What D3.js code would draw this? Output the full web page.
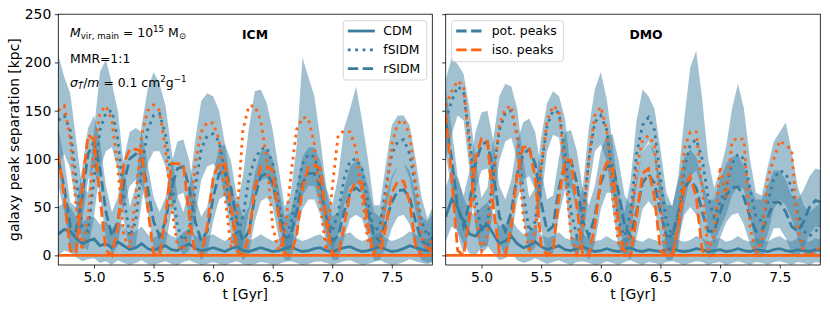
<!DOCTYPE html>
<html>
<head>
<meta charset="utf-8">
<script src="https://cdn.jsdelivr.net/npm/d3@7"></script>
<style>
  body { margin: 0; background: #fff; }
  svg { display: block; }
  text { font-family: "DejaVu Sans", sans-serif; fill: #000; }
</style>
</head>
<body>
<svg id="fig" width="830" height="311"></svg>
<script>
// sampling times [Gyr]
var times = [
  4.70,4.75,4.80,4.85,4.90,4.95,5.00,5.05,
  5.10,5.15,5.20,5.25,5.30,5.35,5.40,5.45,
  5.50,5.55,5.60,5.65,5.70,5.75,5.80,5.85,
  5.90,5.95,6.00,6.05,6.10,6.15,6.20,6.25,
  6.30,6.35,6.40,6.45,6.50,6.55,6.60,6.65,
  6.70,6.75,6.80,6.85,6.90,6.95,7.00,7.05,
  7.10,7.15,7.20,7.25,7.30,7.35,7.40,7.45,
  7.50,7.55,7.60,7.65,7.70,7.75,7.80,7.85];

var xTicks = [5.0, 5.5, 6.0, 6.5, 7.0, 7.5];
var yTicks = [0, 50, 100, 150, 200, 250];
var modelNames = ["CDM", "fSIDM", "rSIDM"];
var peakNames = ["pot. peaks", "iso. peaks"];

// ---------- ICM ----------
var icmCdmPot = [
  22,27,25,18,12,15,17,10,
  12,8,14,10,6,8,12,7,
  5,8,10,6,5,9,12,7,
  5,6,8,6,4,7,9,5,
  4,6,8,6,4,5,7,9,
  6,4,5,7,8,5,4,6,
  8,9,6,4,5,7,9,6,
  4,5,7,10,8,6,5,7];
var icmCdmIso = [
  0,0,0,0,0,0,0,0, 0,0,0,0,0,0,0,0,
  0,0,0,0,0,0,0,0, 0,0,0,0,0,0,0,0,
  0,0,0,0,0,0,0,0, 0,0,0,0,0,0,0,0,
  0,0,0,0,0,0,0,0, 0,0,0,0,0,0,0,0];
var icmFsidmPot = [
  140,145,130,80,30,25,80,130,
  148,150,120,60,20,35,90,130,
  145,147,125,80,30,15,25,70,
  110,124,126,118,85,40,20,40,
  80,100,110,112,95,55,25,30,
  65,95,105,102,80,40,25,45,
  80,98,100,90,55,25,30,70,
  105,118,120,105,70,35,20,30];
var icmFsidmIso = [
  150,155,120,50,5,40,110,148,
  155,140,90,20,8,60,125,150,
  156,150,110,50,10,5,30,95,
  128,138,137,120,60,8,40,130,
  155,155,140,100,30,5,20,80,
  130,143,142,115,50,5,70,125,
  129,128,110,60,15,3,10,60,
  115,137,140,125,75,20,5,20];
var icmRsidmPot = [
  100,70,30,25,60,105,118,90,
  45,20,35,75,100,105,100,70,
  35,20,35,70,90,92,70,35,
  15,25,60,85,88,70,35,15,
  25,60,82,85,75,45,18,20,
  45,75,85,85,70,40,15,20,
  45,65,70,65,45,20,15,35,
  55,67,68,60,35,15,10,20];
var icmRsidmIso = [
  105,60,5,2,70,125,120,60,
  5,0,30,95,110,110,108,50,
  2,0,40,95,95,94,40,0,
  0,30,80,95,95,50,5,0,
  20,70,92,93,88,40,2,0,
  20,70,92,93,90,35,2,0,
  30,65,77,75,30,0,0,30,
  65,77,77,55,10,0,0,10];
// scatter bands of the pot. peaks
var icmCdmLo = [
  0,5,3,-2,-6,-4,-3,-8,
  -6,-10,-5,-8,-10,-8,-5,-9,
  -10,-8,-6,-9,-10,-7,-5,-8,
  -10,-9,-7,-9,-10,-8,-6,-9,
  -10,-9,-7,-8,-10,-9,-7,-6,
  -8,-10,-9,-7,-6,-8,-10,-8,
  -6,-5,-8,-10,-9,-7,-5,-8,
  -10,-9,-7,-4,-6,-8,-9,-7];
var icmCdmHi = [
  50,55,50,40,35,38,40,32,
  35,28,35,30,22,25,30,22,
  18,22,25,20,18,24,28,20,
  18,20,22,18,15,20,24,18,
  15,18,22,18,15,17,20,24,
  18,15,17,20,22,17,15,18,
  22,24,18,15,17,20,24,18,
  15,17,20,25,22,18,17,20];
var icmFsidmLo = [
  95,105,90,50,10,5,40,90,
  108,112,88,35,5,10,55,95,
  108,108,92,55,10,0,5,40,
  78,92,95,88,60,20,0,10,
  45,68,78,80,68,35,5,5,
  35,62,72,72,52,20,5,20,
  52,72,75,68,35,5,10,45,
  78,92,95,80,45,15,5,10];
var icmFsidmHi = [
  208,185,168,120,70,65,130,190,
  203,178,150,92,50,72,135,172,
  190,178,155,110,62,45,70,120,
  160,168,165,150,115,70,52,82,
  132,170,172,158,130,90,50,62,
  112,205,185,165,120,70,52,82,
  132,152,175,140,100,52,52,95,
  135,145,145,135,100,60,38,52];
var icmRsidmLo = [
  72,45,8,2,35,78,92,62,
  18,0,10,50,72,78,72,45,
  10,0,10,45,62,65,42,8,
  -5,2,35,58,62,42,8,-5,
  2,35,56,60,50,18,-5,-5,
  18,48,58,58,42,12,-5,-5,
  18,38,42,38,18,-5,-5,8,
  28,40,42,32,8,-5,-8,-5];
var icmRsidmHi = [
  132,100,55,50,90,132,145,118,
  72,45,60,100,128,132,128,95,
  60,45,60,95,118,120,98,60,
  40,50,85,112,115,98,60,40,
  50,85,108,110,100,70,40,45,
  70,102,112,112,98,68,40,45,
  70,92,98,92,72,45,40,60,
  82,92,95,88,62,40,35,45];

// ---------- DMO ----------
var dmoCdmPot = [
  40,58,50,35,22,20,28,32,
  22,12,15,20,12,8,10,14,
  9,6,8,10,6,5,7,9,
  6,4,5,7,5,4,6,8,
  5,4,6,5,4,6,7,5,
  4,5,7,6,4,5,6,4,
  5,7,5,4,6,5,4,6,
  7,5,4,6,5,4,6,5];
var dmoCdmIso = [
  0,0,0,0,0,0,0,0, 0,0,0,0,0,0,0,0,
  0,0,0,0,0,0,0,0, 0,0,0,0,0,0,0,0,
  0,0,0,0,0,0,0,0, 0,0,0,0,0,0,0,0,
  0,0,0,0,0,0,0,0, 0,0,0,0,0,0,0,0];
var dmoFsidmPot = [
  140,160,175,170,120,60,25,35,
  85,130,148,150,125,65,25,35,
  90,135,150,148,105,45,20,40,
  100,138,145,130,80,35,20,45,
  105,135,143,130,80,35,20,40,
  90,115,120,100,60,40,55,70,
  95,105,100,70,40,35,55,80,
  88,85,70,45,25,20,25,30];
var dmoFsidmIso = [
  155,170,181,175,110,40,5,20,
  80,135,152,155,120,40,3,25,
  90,140,155,150,90,20,2,30,
  100,145,154,130,60,10,2,25,
  90,120,124,115,50,3,0,30,
  110,128,128,70,5,20,92,60,
  118,122,120,30,2,15,81,100,
  119,114,110,30,2,0,5,10];
var dmoRsidmPot = [
  140,100,50,30,55,95,115,118,
  85,40,25,45,85,105,110,95,
  55,25,30,70,95,98,75,35,
  20,40,75,92,93,65,30,20,
  45,75,84,75,45,20,20,45,
  70,78,70,45,25,25,45,62,
  70,71,60,40,25,25,40,55,
  55,45,30,25,35,50,57,55];
var dmoRsidmIso = [
  147,80,5,0,40,100,121,118,
  50,2,0,30,85,112,113,80,
  10,0,5,60,98,99,50,0,
  0,30,80,96,90,30,0,0,
  40,85,90,60,5,0,0,30,
  70,82,60,5,0,0,0,0,
  0,0,0,0,0,0,0,0,
  0,0,0,0,0,0,0,0];
var dmoCdmLo = [
  15,30,25,12,2,0,8,10,
  2,-5,-3,2,-5,-8,-6,-3,
  -6,-9,-7,-5,-8,-10,-7,-6,
  -8,-10,-9,-6,-8,-10,-7,-5,
  -8,-10,-7,-8,-10,-7,-6,-8,
  -10,-8,-6,-7,-10,-8,-7,-10,
  -8,-6,-8,-10,-7,-8,-10,-7,
  -6,-8,-10,-7,-8,-10,-7,-8];
var dmoCdmHi = [
  70,90,80,60,45,42,50,55,
  42,30,32,38,28,22,25,30,
  22,18,20,24,18,16,20,22,
  18,15,16,20,16,14,18,20,
  16,14,18,16,14,18,20,16,
  14,16,20,18,14,16,18,14,
  16,20,16,14,18,16,14,18,
  20,16,14,18,16,14,18,16];
var dmoFsidmLo = [
  100,125,145,140,88,28,2,8,
  52,98,118,122,98,38,2,8,
  58,108,125,122,72,12,-2,12,
  68,108,115,98,48,8,-2,18,
  72,108,118,102,52,8,-2,8,
  52,82,88,68,28,12,28,42,
  62,72,68,38,12,8,22,48,
  58,52,38,18,2,-2,2,8];
var dmoFsidmHi = [
  182,205,198,188,152,100,60,70,
  122,165,178,175,152,100,60,70,
  122,158,170,165,142,85,50,72,
  132,172,190,162,115,65,45,78,
  140,172,165,152,110,65,50,82,
  142,195,212,162,100,70,88,112,
  152,178,152,100,65,62,92,118,
  128,138,108,72,52,45,50,55];
var dmoRsidmLo = [
  105,68,22,2,28,68,88,90,
  58,12,-2,18,58,78,82,68,
  28,-2,2,42,68,70,48,8,
  -5,12,48,65,65,38,2,-5,
  18,48,56,48,18,-5,-5,18,
  42,50,42,18,-2,-2,18,34,
  42,44,32,12,-2,-2,12,28,
  28,18,2,-2,8,22,30,28];
var dmoRsidmHi = [
  172,132,82,62,88,128,148,150,
  118,72,58,78,118,138,142,128,
  88,58,62,102,128,130,108,68,
  52,72,108,125,125,98,62,52,
  78,108,116,108,78,52,52,78,
  102,110,102,78,58,58,78,95,
  102,104,92,72,58,58,72,88,
  88,78,62,58,68,82,90,88];

// styles
var blue = "#3a7d9e", orange = "#fe6414";
var lw = 2.8;
var dashes = { CDM: null, fSIDM: "2.8,4.6", rSIDM: "10.4,4.5" };

var svg = d3.select("#fig");
var yTop = 14.2, yBottom = 265;

var panels = [
  { id: "icm", title: "ICM", x0: 58.3, x1: 432.3, yLabels: true,
    bands: [[icmFsidmLo, icmFsidmHi], [icmRsidmLo, icmRsidmHi], [icmCdmLo, icmCdmHi]],
    pot: { CDM: icmCdmPot, fSIDM: icmFsidmPot, rSIDM: icmRsidmPot },
    iso: { CDM: icmCdmIso, fSIDM: icmFsidmIso, rSIDM: icmRsidmIso } },
  { id: "dmo", title: "DMO", x0: 445.7, x1: 820.3, yLabels: false,
    bands: [[dmoFsidmLo, dmoFsidmHi], [dmoRsidmLo, dmoRsidmHi], [dmoCdmLo, dmoCdmHi]],
    pot: { CDM: dmoCdmPot, fSIDM: dmoFsidmPot, rSIDM: dmoRsidmPot },
    iso: { CDM: dmoCdmIso, fSIDM: dmoFsidmIso, rSIDM: dmoRsidmIso } }
];

panels.forEach(function(p) {
  var x = d3.scaleLinear().domain([4.7, 7.84]).range([p.x0, p.x1]);
  var y = d3.scaleLinear().domain([-10, 250]).range([yBottom, yTop]);

  svg.append("clipPath").attr("id", "clip-" + p.id)
    .append("rect")
      .attr("x", p.x0).attr("y", yTop)
      .attr("width", p.x1 - p.x0).attr("height", yBottom - yTop);

  var plot = svg.append("g").attr("clip-path", "url(#clip-" + p.id + ")");

  var area = d3.area()
    .x(function(d, i) { return x(times[i]); })
    .y0(function(d) { return y(d[0]); })
    .y1(function(d) { return y(d[1]); });

  p.bands.forEach(function(b) {
    plot.append("path")
      .datum(d3.zip(b[0], b[1]))
      .attr("d", area)
      .attr("fill", blue)
      .attr("fill-opacity", 0.48)
      .attr("stroke", "none");
  });

  var line = d3.line()
    .x(function(d, i) { return x(times[i]); })
    .y(function(d) { return y(d); });

  // pot. peaks first (blue), iso. peaks on top (orange)
  [["pot", blue], ["iso", orange]].forEach(function(kind) {
    ["rSIDM", "fSIDM", "CDM"].forEach(function(m) {
      plot.append("path")
        .datum(p[kind[0]][m])
        .attr("d", line)
        .attr("fill", "none")
        .attr("stroke", kind[1])
        .attr("stroke-width", lw)
        .attr("stroke-dasharray", dashes[m]);
    });
  });

  // axes
  var xAxis = svg.append("g")
    .attr("transform", "translate(0," + yBottom + ")")
    .call(d3.axisBottom(x).tickValues(xTicks).tickSize(3.5).tickPadding(3.5)
      .tickFormat(d3.format(".1f")));
  var yAxis = svg.append("g")
    .attr("transform", "translate(" + p.x0 + ",0)")
    .call(d3.axisLeft(y).tickValues(yTicks).tickSize(3.5).tickPadding(3.5)
      .tickFormat(p.yLabels ? d3.format("d") : function() { return ""; }));
  [xAxis, yAxis].forEach(function(a) {
    a.select(".domain").remove();
    a.selectAll("line").attr("stroke", "#000").attr("stroke-width", 0.8);
    a.selectAll("text")
      .style("font-family", "DejaVu Sans, sans-serif")
      .style("font-size", "13.9px").attr("fill", "#000");
  });

  svg.append("rect")
    .attr("x", p.x0).attr("y", yTop)
    .attr("width", p.x1 - p.x0).attr("height", yBottom - yTop)
    .attr("fill", "none").attr("stroke", "#000").attr("stroke-width", 0.8);

  svg.append("text")
    .attr("x", (p.x0 + p.x1) / 2).attr("y", 298.5)
    .attr("text-anchor", "middle")
    .style("font-size", "13.9px")
    .text("t [Gyr]");

  svg.append("text")
    .attr("x", p.id === "icm" ? 255 : 646).attr("y", 39.3)
    .attr("text-anchor", "middle")
    .style("font-size", "12.4px").style("font-weight", "bold")
    .text(p.title);
});

// y label
svg.append("text")
  .attr("transform", "translate(19," + ((yTop + yBottom) / 2) + ") rotate(-90)")
  .attr("text-anchor", "middle")
  .style("font-size", "13.9px")
  .text("galaxy peak separation [kpc]");

// legends
function legend(x0, y0, w, h, entries) {
  var g = svg.append("g");
  g.append("rect")
    .attr("x", x0).attr("y", y0).attr("width", w).attr("height", h)
    .attr("rx", 2.5)
    .attr("fill", "#fff").attr("fill-opacity", 0.8)
    .attr("stroke", "#cccccc").attr("stroke-width", 0.8);
  entries.forEach(function(e, i) {
    var yy = y0 + 10.3 + i * 18.8;
    g.append("line")
      .attr("x1", x0 + 4.5).attr("x2", x0 + 31.5)
      .attr("y1", yy).attr("y2", yy)
      .attr("stroke", e.color).attr("stroke-width", lw)
      .attr("stroke-dasharray", e.dash);
    g.append("text")
      .attr("x", x0 + 40).attr("y", yy + 4.4)
      .style("font-size", "12.4px")
      .text(e.label);
  });
}
legend(343.3, 20.7, 83.4, 59.3, modelNames.map(function(m) {
  return { label: m, color: blue, dash: dashes[m] };
}));
legend(451.7, 20.7, 111.6, 41, [
  { label: peakNames[0], color: blue, dash: dashes.rSIDM },
  { label: peakNames[1], color: orange, dash: dashes.rSIDM }
]);

// annotations (ICM panel)
var fs = 12.4, fsSub = 8.7;
var t1 = svg.append("text").attr("x", 70).attr("y", 36.7).style("font-size", fs + "px");
t1.append("tspan").style("font-style", "italic").text("M");
t1.append("tspan").attr("dy", 2.6).style("font-size", fsSub + "px").text("vir, main");
t1.append("tspan").attr("dy", -2.6).text(" = 10");
t1.append("tspan").attr("dy", -5).style("font-size", fsSub + "px").text("15");
t1.append("tspan").attr("dy", 5).text(" M");
t1.append("tspan").attr("dy", 2.6).style("font-size", fsSub + "px").text("\u2299");

svg.append("text").attr("x", 70).attr("y", 63.3).style("font-size", fs + "px").text("MMR=1:1");

var t3 = svg.append("text").attr("x", 70).attr("y", 86.7).style("font-size", fs + "px");
t3.append("tspan").style("font-style", "italic").text("\u03c3");
t3.append("tspan").attr("dy", 2.6).style("font-size", fsSub + "px").style("font-style", "italic").text("T\u0303");
t3.append("tspan").attr("dy", -2.6).text("/");
t3.append("tspan").style("font-style", "italic").text("m");
t3.append("tspan").text(" = 0.1 cm");
t3.append("tspan").attr("dy", -5).style("font-size", fsSub + "px").text("2");
t3.append("tspan").attr("dy", 5).text("g");
t3.append("tspan").attr("dy", -5).style("font-size", fsSub + "px").text("\u22121");
</script>
</body>
</html>
